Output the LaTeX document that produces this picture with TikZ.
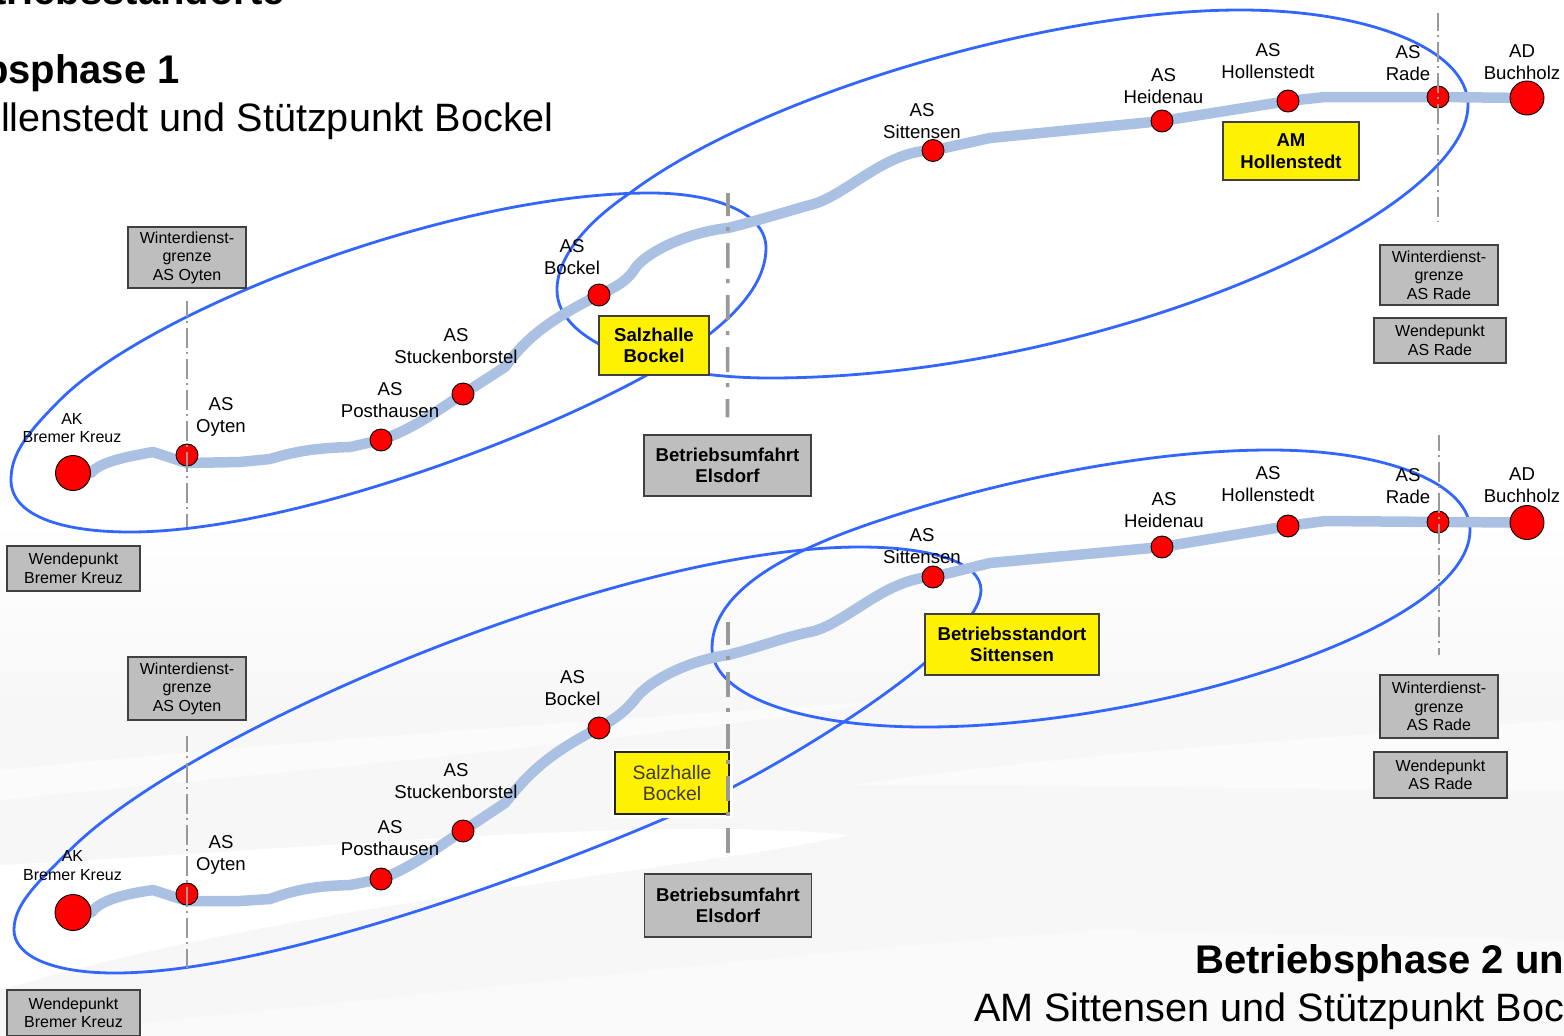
\documentclass[tikz,border=0pt]{standalone}
\usepackage{fontspec}
\setmainfont{Liberation Sans}
\usetikzlibrary{backgrounds}
\definecolor{ringblue}{HTML}{3366FF}
\definecolor{roadblue}{HTML}{ABC1E3}
\definecolor{boxgrey}{HTML}{BEBEBE}
\definecolor{linegrey}{HTML}{999999}
\definecolor{edgegrey}{HTML}{404040}
\tikzset{
  stop/.style={circle, draw=black, line width=0.9pt, fill=red, minimum size=22pt, inner sep=0pt},
  bigstop/.style={stop, minimum size=36pt},
  lbl/.style={align=center, font=\fontsize{18.6}{22}\selectfont},
  smalllbl/.style={align=center, font=\fontsize{16}{18.5}\selectfont},
  greybox/.style={rectangle, draw=edgegrey, line width=1.1pt, fill=boxgrey, align=center, inner sep=0pt, font=\fontsize{16}{18.5}\selectfont},
  umfbox/.style={greybox, minimum width=167pt, font=\fontsize{18.6}{21.5}\selectfont\bfseries},
  yellowbox/.style={rectangle, draw=edgegrey, line width=1.1pt, fill=yellow, align=center, inner sep=0pt, font=\fontsize{18.6}{21.5}\selectfont\bfseries},
  ring/.style={draw=ringblue, line width=2.8pt},
  road/.style={draw=roadblue, line width=10.5pt, line cap=round, line join=round},
  grenze/.style={draw=linegrey, line width=2.4pt, dash pattern=on 20pt off 4pt on 2pt off 5pt, dash phase=4pt},
  umfahrt/.style={draw=linegrey, line width=3.6pt, dash pattern=on 25pt off 11pt on 4pt off 12pt, dash phase=2pt},
  bighead/.style={inner sep=0pt, font=\fontsize{40}{44}\selectfont\bfseries},
  subhead/.style={inner sep=0pt, font=\fontsize{39.6}{44}\selectfont}
}
\begin{document}
\begin{tikzpicture}[x=1pt, y=-1pt, node distance=40pt]
\useasboundingbox (0,0) rectangle (1564,1036);
\clip (0,0) rectangle (1564,1036);

% upper strip
\node[bigstop, minimum size=35pt] (akA) at (73,473) {};
\node[stop] (oytenA) at (187,455) {};
\node[stop] (posthA) at (381,440) {};
\node[stop] (stuckA) at (463,394) {};
\node[stop] (bockelA) at (599,295) {};
\node[stop] (sittA) at (933,150.5) {};
\node[stop] (heidA) at (1162,121) {};
\node[stop] (hollA) at (1288,101) {};
\node[stop] (radeA) at (1438,97) {};
\node[bigstop, minimum size=34pt] (buchA) at (1527,98) {};

\node[smalllbl, above of=akA, node distance=45pt, xshift=-1pt] (lakA) {AK\\Bremer Kreuz};
\node[lbl, above of=oytenA, node distance=38pt, xshift=34pt] (loytenA) {AS\\Oyten};
\node[lbl, above of=posthA, node distance=39.5pt, xshift=9pt] (lposthA) {AS\\Posthausen};
\node[lbl, above of=stuckA, node distance=47.5pt, xshift=-7pt] (lstuckA) {AS\\Stuckenborstel};
\node[lbl, above of=bockelA, node distance=38pt, xshift=-27pt] (lbockelA) {AS\\Bockel};
\node[lbl, above of=sittA, node distance=29.5pt, xshift=-11pt] (lsittA) {AS\\Sittensen};
\node[lbl, above of=heidA, node distance=35pt, xshift=1.5pt] (lheidA) {AS\\Heidenau};
\node[lbl, above of=hollA, xshift=-20pt] (lhollA) {AS\\Hollenstedt};
\node[lbl, above of=radeA, node distance=34pt, xshift=-30pt] (lradeA) {AS\\Rade};
\node[lbl, above of=buchA, node distance=36pt, xshift=-5pt] (lbuchA) {AD\\Buchholz};

\node[yellowbox, minimum width=136pt, minimum height=58pt] (amA) at (1291,151) {AM\\Hollenstedt};
\node[yellowbox, minimum width=110pt, minimum height=59pt] (salzA) at (654,345.5) {Salzhalle\\Bockel};
\node[greybox, minimum width=118pt, minimum height=61pt] (wintOytenA) at (187,257.5) {Winterdienst-\\grenze\\AS Oyten};
\node[greybox, minimum width=118pt, minimum height=60pt] (wintRadeA) at (1439,275) {Winterdienst-\\grenze\\AS Rade};
\node[greybox, minimum width=132pt, minimum height=45pt] (wendeRadeA) at (1440,340.5) {Wendepunkt\\AS Rade};
\node[greybox, minimum width=133pt, minimum height=45pt] (wendeAkA) at (73.5,568.5) {Wendepunkt\\Bremer Kreuz};
\node[umfbox, minimum height=61pt] (umfA) at (727.5,465.5) {Betriebsumfahrt\\Elsdorf};

% lower strip
\node[bigstop] (akB) at (73,912.5) {};
\node[stop] (oytenB) at (187,894) {};
\node[stop] (posthB) at (381,879) {};
\node[stop] (stuckB) at (463,831) {};
\node[stop] (bockelB) at (599,728) {};
\node[stop] (sittB) at (933,577) {};
\node[stop] (heidB) at (1162,547) {};
\node[stop] (hollB) at (1288,526) {};
\node[stop] (radeB) at (1438,522) {};
\node[bigstop, minimum size=34pt] (buchB) at (1527,522.5) {};

\node[smalllbl, above of=akB, node distance=47pt, xshift=-0.5pt] (lakB) {AK\\Bremer Kreuz};
\node[lbl, above of=oytenB, node distance=39.5pt, xshift=34pt] (loytenB) {AS\\Oyten};
\node[lbl, above of=posthB, node distance=40.5pt, xshift=9pt] (lposthB) {AS\\Posthausen};
\node[lbl, above of=stuckB, node distance=49.5pt, xshift=-7pt] (lstuckB) {AS\\Stuckenborstel};
\node[lbl, above of=bockelB, xshift=-26.5pt] (lbockelB) {AS\\Bockel};
\node[lbl, above of=sittB, node distance=31pt, xshift=-11pt] (lsittB) {AS\\Sittensen};
\node[lbl, above of=heidB, node distance=36.5pt, xshift=2pt] (lheidB) {AS\\Heidenau};
\node[lbl, above of=hollB, node distance=42pt, xshift=-20pt] (lhollB) {AS\\Hollenstedt};
\node[lbl, above of=radeB, node distance=36pt, xshift=-30pt] (lradeB) {AS\\Rade};
\node[lbl, above of=buchB, node distance=37.5pt, xshift=-5pt] (lbuchB) {AD\\Buchholz};

\node[yellowbox, minimum width=174pt, minimum height=61pt] (standB) at (1012,644.5) {Betriebsstandort\\Sittensen};
\node[yellowbox, minimum width=114pt, minimum height=62pt, draw=black!85, line width=1.8pt, preaction={draw=white, line width=7pt}, font=\fontsize{19.4}{21.5}\selectfont, text=yellow!12!black] (salzB) at (672,783) {Salzhalle\\Bockel};
\node[greybox, minimum width=118pt, minimum height=63pt] (wintOytenB) at (187,688.5) {Winterdienst-\\grenze\\AS Oyten};
\node[greybox, minimum width=118pt, minimum height=63pt] (wintRadeB) at (1439,706.5) {Winterdienst-\\grenze\\AS Rade};
\node[greybox, minimum width=133pt, minimum height=46pt] (wendeRadeB) at (1440.5,775) {Wendepunkt\\AS Rade};
\node[greybox, minimum width=133pt, minimum height=46pt] (wendeAkB) at (73.5,1013) {Wendepunkt\\Bremer Kreuz};
\node[umfbox, minimum height=63pt] (umfB) at (728,905.5) {Betriebsumfahrt\\Elsdorf};

% headings, cut by the page
\node[bighead, anchor=base east] (kopf) at (285,5) {Betriebsstandorte};
\node[bighead, anchor=base east] (phaseA) at (180,83) {Betriebsphase 1};
\node[subhead, anchor=base east] (subA) at (554,131) {AM Hollenstedt und Stützpunkt Bockel};
\node[bighead, anchor=base west] (phaseB) at (1195,973) {Betriebsphase 2 und};
\node[subhead, anchor=base west] (subB) at (974,1021) {AM Sittensen und Stützpunkt Bockel};

% free ends of the boundary lines
\coordinate (endOytenA) at (187,527);
\coordinate (topUmfA) at (728,193);
\coordinate (topRadeA) at (1438,13);
\coordinate (endOytenB) at (187,968);
\coordinate (topUmfB) at (728,622);
\coordinate (topRadeB) at (1439,435);
\coordinate (endRadeB) at (1439,655);

\draw[grenze] ([yshift=-12pt]wintOytenA.south) -- (endOytenA);
\draw[umfahrt] (topUmfA) -- ([yshift=17pt]umfA.north);
\draw[grenze, dash phase=2pt] (topRadeA) -- ([xshift=-1pt, yshift=22pt]wintRadeA.north);
\draw[grenze] ([yshift=-15pt]wintOytenB.south) -- (endOytenB);
\draw[umfahrt] (topUmfB) -- ([yshift=19pt]umfB.north);
\draw[grenze] (topRadeB) -- (endRadeB);

\begin{scope}[on background layer]
% faint swooshes behind the lower strip
\fill[top color=white, bottom color=black!3] (0,520) rectangle (1564,700);
\fill[black!3] (0,699) rectangle (1564,1036);
\fill[black!1.5] (0,770) .. controls (300,740) and (600,720) .. (900,700) .. controls (600,745) and (300,770) .. (0,800) -- cycle;
\fill[white] (0,865) .. controls (300,850) and (650,815) .. (850,835) .. controls (700,870) and (300,900) .. (0,990) -- cycle;
\fill[black!1.5] (850,785) .. controls (1100,750) and (1300,740) .. (1564,720) -- (1564,790) .. controls (1300,790) and (1100,785) .. (850,785) -- cycle;
\fill[black!2] (0,1036) .. controls (400,1000) and (700,960) .. (1100,930) -- (1564,940) -- (1564,1036) -- cycle;

\draw[ring] (11,480) .. controls (11,515) and (60,532) .. (130,532) .. controls (280,532) and (520,445) .. (647,375) .. controls (700,345) and (766,300) .. (766,248) .. controls (766,215) and (720,193) .. (650,193) .. controls (450,193) and (150,310) .. (60,400) .. controls (25,435) and (11,455) .. (11,480) -- cycle;
\draw[ring] (557,290) .. controls (557,255) and (590,220) .. (630,193) .. controls (760,95) and (1050,10) .. (1240,10) .. controls (1370,10) and (1468,50) .. (1468,105) .. controls (1468,215) and (1100,378) .. (770,378) .. controls (660,378) and (557,345) .. (557,290) -- cycle;
\draw[ring] (14,930) .. controls (14,955) and (50,973) .. (115,973) .. controls (300,973) and (650,830) .. (731,788) .. controls (820,742) and (981,640) .. (981,590) .. controls (981,562) and (930,547) .. (860,547) .. controls (620,547) and (190,730) .. (70,850) .. controls (35,885) and (14,905) .. (14,930) -- cycle;
\draw[ring] (712,648) .. controls (712,590) and (790,550) .. (881,520) .. controls (1000,480) and (1150,450) .. (1270,450) .. controls (1390,450) and (1470,485) .. (1470,530) .. controls (1470,630) and (1150,727) .. (925,727) .. controls (800,727) and (712,695) .. (712,648) -- cycle;

\draw[road] (akA.east) .. controls (100,462) and (125,457) .. (153,452) -- (187,463) -- (240,462) -- (270,459) .. controls (300,450) and (320,448) .. (350,447) -- (posthA.center) .. controls (415,428) and (435,412) .. (stuckA.center) -- (505,367) .. controls (525,340) and (545,322) .. (bockelA.center) .. controls (620,285) and (628,280) .. (636,267) .. controls (650,250) and (690,232) .. (728,228) .. controls (760,220) and (785,212) .. (810,205) .. controls (845,197) and (885,150) .. (sittA.center) -- (990,138) -- (heidA.center) -- (hollA.center) -- (1325,97) -- (radeA.center) -- (buchA.center);
\draw[road] (akB.east) .. controls (100,900) and (125,894) .. (153,890) -- (187,901) -- (240,901) -- (270,899) .. controls (300,888) and (320,886) .. (350,885) -- (posthB.center) .. controls (415,866) and (440,845) .. (stuckB.center) -- (505,803) .. controls (525,778) and (545,755) .. (bockelB.center) .. controls (620,716) and (628,708) .. (636,698) .. controls (650,680) and (690,660) .. (728,655) .. controls (760,647) and (785,637) .. (810,632) .. controls (845,625) and (885,578) .. (sittB.center) -- (990,563) -- (heidB.center) -- (hollB.center) -- (1325,521) -- (radeB.center) -- (buchB.center);
\end{scope}
\end{tikzpicture}
\end{document}
